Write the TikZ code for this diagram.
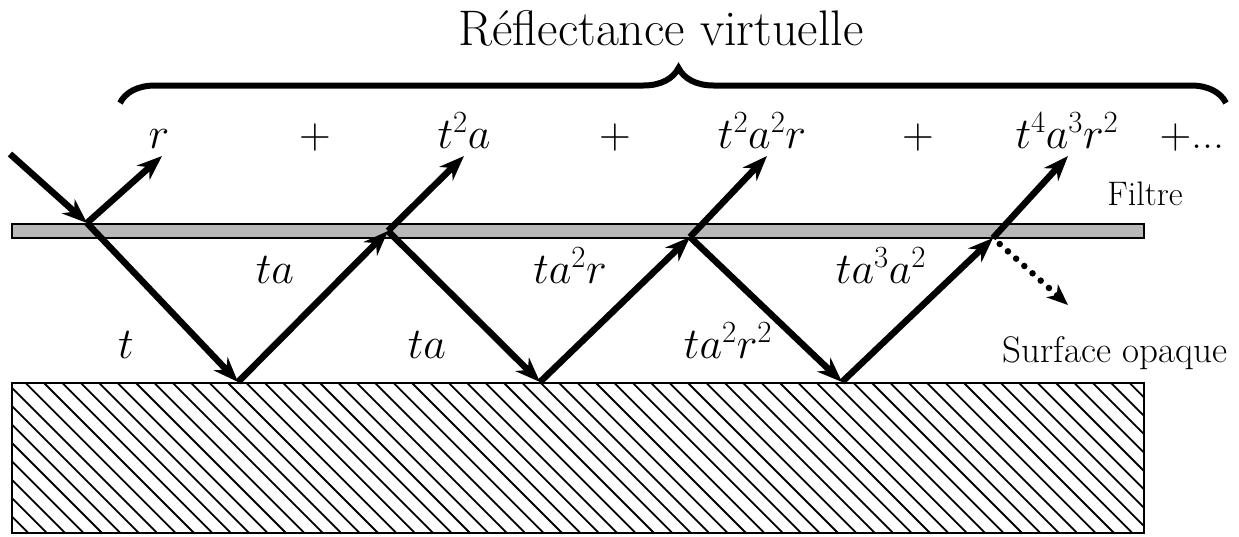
\RequirePackage{fix-cm}
\documentclass[tikz,border=0pt]{standalone}
\usetikzlibrary{arrows.meta,decorations.pathreplacing}
\definecolor{filtregray}{RGB}{184,184,184}
\begin{document}
\begin{tikzpicture}[x=1pt,y=-1pt,
  ray/.style={line width=6.5pt,-{Stealth[length=25pt,width=19pt,inset=8pt]}},
  dotray/.style={line width=6.5pt,line cap=round,dash pattern=on 0pt off 11pt,-{Stealth[length=21pt,width=17pt,inset=6pt]}},
  lab/.style={anchor=base,font=\fontsize{44}{48}\selectfont},
  frame/.style={line width=1.5pt}]
\useasboundingbox (0,0) rectangle (1239,536);
% filter
\draw[frame,fill=filtregray] (12,224) rectangle (1144,238);
% opaque surface
\begin{scope}
  \clip (12,383) rectangle (1144,533);
  \foreach \i in {0,...,72} \draw[line width=1.8pt] ({-140+\i*18.4},383) -- ++(152,152);
\end{scope}
\draw[frame] (12,383) rectangle (1144,533);
% points
\coordinate (s) at (10,154);
\coordinate (j1) at (87,223);
\coordinate (o1) at (162,156);
\coordinate (b1) at (238,382);
\coordinate (j2) at (388,231);
\coordinate (o2) at (464,156);
\coordinate (b2) at (540,382);
\coordinate (j3) at (690,237);
\coordinate (o3) at (767,156);
\coordinate (b3) at (842,382);
\coordinate (j4) at (993,238);
\coordinate (o4) at (1068,156);
\coordinate (d4) at (1068,305);
% rays
\draw[ray] (s) -- (j1);
\draw[ray] (j1) -- (o1);
\draw[ray] (j1) -- (b1);
\draw[ray] (b1) -- (j2);
\draw[ray] (j2) -- (o2);
\draw[ray] (j2) -- (b2);
\draw[ray] (b2) -- (j3);
\draw[ray] (j3) -- (o3);
\draw[ray] (j3) -- (b3);
\draw[ray] (b3) -- (j4);
\draw[ray] (j4) -- (o4);
\draw[dotray,shorten <=9pt] (j4) -- (d4);
% brace and title
\coordinate (bl) at (120,103);
\coordinate (br) at (1226,103);
\draw[line width=6pt,decorate,decoration={brace,amplitude=35pt,aspect=0.505}] (bl) -- (br);
\node[anchor=base,font=\fontsize{50}{54}\selectfont] (title) at (661,45) {Réflectance virtuelle};
% series
\node[lab] (t1) at (159,148) {$r$};
\node[lab] (p1) at (315,148) {$+$};
\node[lab] (t2) at (464,148) {$t^2a$};
\node[lab] (p2) at (615,148) {$+$};
\node[lab] (t3) at (762,148) {$t^2a^2r$};
\node[lab] (p3) at (918,148) {$+$};
\node[lab] (t4) at (1067,148) {$t^4a^3r^2$};
\node[lab] (p4) at (1192,148) {$+$...};
% inner labels
\node[lab] (l1) at (126,358) {$t$};
\node[lab] (l2) at (275,283) {$ta$};
\node[lab] (l3) at (427,358) {$ta$};
\node[lab] (l4) at (570,283) {$ta^2r$};
\node[lab] (l5) at (728,358) {$ta^2r^2$};
\node[lab] (l6) at (881,283) {$ta^3a^2$};
% side labels
\node[anchor=base,font=\fontsize{34}{38}\selectfont] (filtre) at (1145,205) {Filtre};
\node[anchor=base,font=\fontsize{37}{40}\selectfont] (surf) at (1115,362) {Surface opaque};
\end{tikzpicture}
\end{document}
